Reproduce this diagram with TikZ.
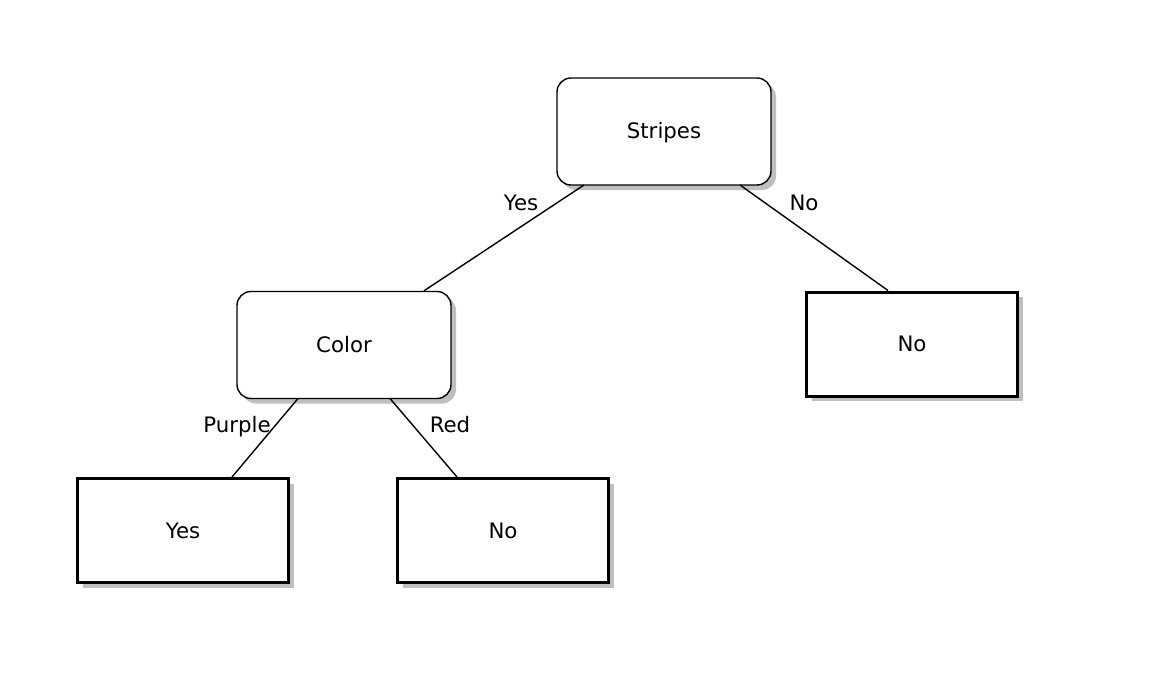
\documentclass[tikz,border=0pt]{standalone}
\usepackage{fontspec}
\setmainfont{DejaVu Sans}
\usetikzlibrary{shadows}
\definecolor{shadowgray}{gray}{0.75}
\tikzset{
  decision/.style={draw=black, line width=1.4pt, fill=white, rounded corners=14pt,
    minimum width=214pt, minimum height=107pt, inner sep=0pt,
    text height=19pt, text depth=4pt,
    drop shadow={shadow xshift=5pt, shadow yshift=-5pt, fill=shadowgray, opacity=1}},
  leaf/.style={draw=black, line width=3pt, fill=white,
    minimum width=211pt, minimum height=104pt, inner sep=0pt,
    text height=19pt, text depth=4pt,
    drop shadow={shadow xshift=5pt, shadow yshift=-5pt, fill=shadowgray, opacity=1}},
  edge/.style={draw=black, line width=1.4pt},
  elabel/.style={inner sep=0pt, text height=19pt, text depth=4pt}
}
\begin{document}
\begin{tikzpicture}[x=1pt, y=-1pt, font=\fontsize{21.3}{25}\selectfont]
\useasboundingbox (0,0) rectangle (1172,682);
\node[decision] (stripes) at (664,131.5) {Stripes};
\node[decision] (color) at (344,345) {Color};
\node[leaf] (noR) at (912,344) {No};
\node[leaf] (yesL) at (183,530.5) {Yes};
\node[leaf] (noL) at (503,530.5) {No};
\coordinate (s1) at (584,185);
\coordinate (s2) at (740,185);
\coordinate (c1) at (298,398.5);
\coordinate (c2) at (390,398.5);
\draw[edge] (s1) -- (color.north -| 424,0);
\draw[edge] (s2) -- (noR.north -| 888,0);
\draw[edge] (c1) -- (yesL.north -| 232,0);
\draw[edge] (c2) -- (noL.north -| 457,0);
\node[elabel] (lyes) at (521,203) {Yes};
\node[elabel] (lno) at (804,203) {No};
\node[elabel] (lpurple) at (237,425) {Purple};
\node[elabel] (lred) at (450,425) {Red};
\end{tikzpicture}
\end{document}
